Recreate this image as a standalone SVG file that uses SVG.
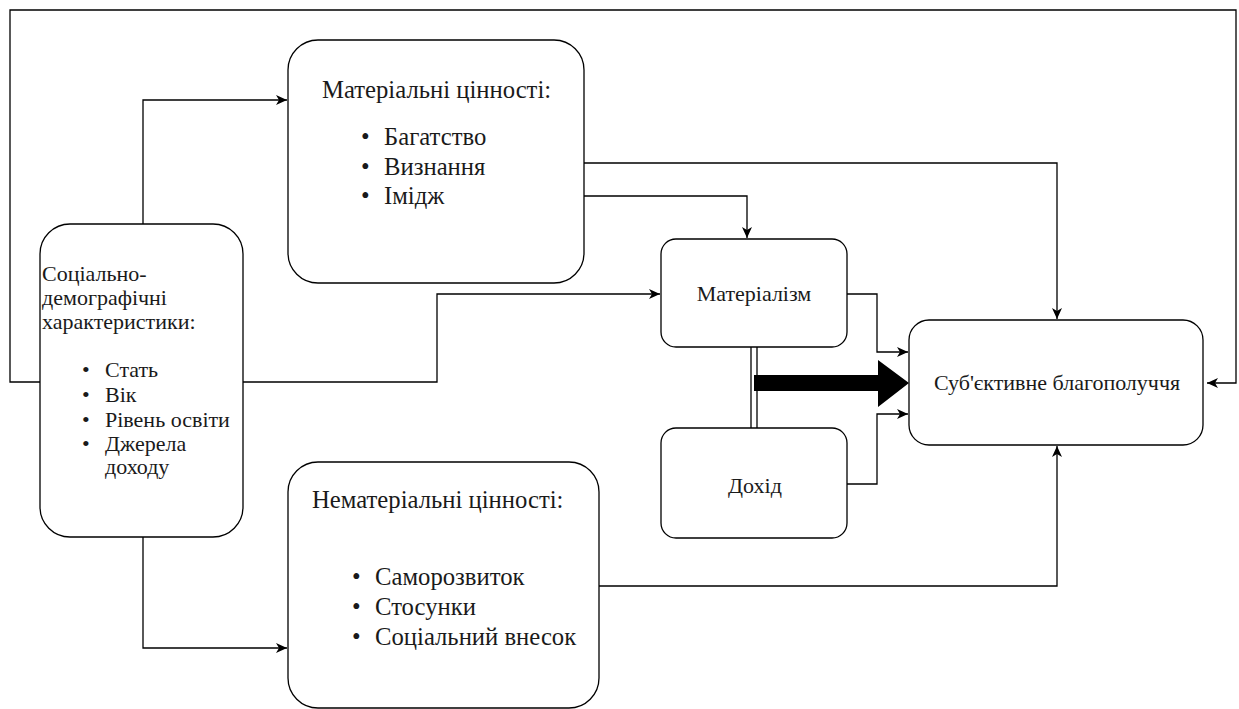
<svg xmlns="http://www.w3.org/2000/svg" width="1239" height="709" viewBox="0 0 1239 709">
<style>
.box{fill:#fff;stroke:#000;stroke-width:1.3}
.ln{fill:none;stroke:#000;stroke-width:1.3}
.t{font-family:"Liberation Serif";font-size:22px;fill:#1a1a1a}
.v{font-family:"Liberation Serif";font-size:24.7px;fill:#1a1a1a}
.c{text-anchor:middle}
</style>
<defs>
<marker id="ar" markerWidth="12" markerHeight="10" refX="11" refY="5" orient="auto" markerUnits="userSpaceOnUse">
<path d="M0,0 L11,5 L0,10 L3,5 z" fill="#000"/>
</marker>
</defs>
<rect width="1239" height="709" fill="#fff"/>
<g id="connectors">
<polyline class="ln" points="40,382 10,382 10,10 1236,10 1236,383 1207,383" marker-end="url(#ar)"/>
<polyline class="ln" points="143,224 143,100 287,100" marker-end="url(#ar)"/>
<polyline class="ln" points="143,537 143,648 287,648" marker-end="url(#ar)"/>
<polyline class="ln" points="243,382 437,382 437,294 660,294" marker-end="url(#ar)"/>
<polyline class="ln" points="584,163 1057,163 1057,319" marker-end="url(#ar)"/>
<polyline class="ln" points="584,196 747,196 747,238" marker-end="url(#ar)"/>
<polyline class="ln" points="847,294 877,294 877,352 908,352" marker-end="url(#ar)"/>
<polyline class="ln" points="847,484 877,484 877,414 908,414" marker-end="url(#ar)"/>
<polyline class="ln" points="599,586 1057,586 1057,446" marker-end="url(#ar)"/>
<line class="ln" x1="751" y1="347" x2="751" y2="428"/>
<line class="ln" x1="757" y1="347" x2="757" y2="428"/>
<polygon points="754,375 878,375 878,360 909,383 878,407 878,391 754,391" fill="#000"/>
</g>
<g id="socio">
<rect class="box" x="40" y="224" width="203" height="313" rx="30"/>
<text class="t" x="42" y="281">Соціально-</text>
<text class="t" x="42" y="305">демографічні</text>
<text class="t" x="42" y="329">характеристики:</text>
<text class="t" x="82" y="377">•</text><text class="t" x="105" y="377">Стать</text>
<text class="t" x="82" y="402">•</text><text class="t" x="105" y="402">Вік</text>
<text class="t" x="82" y="427">•</text><text class="t" x="105" y="427">Рівень освіти</text>
<text class="t" x="82" y="451">•</text><text class="t" x="105" y="451">Джерела</text>
<text class="t" x="105" y="474">доходу</text>
</g>
<g id="material">
<rect class="box" x="288" y="40" width="296" height="243" rx="30"/>
<text class="v" x="322" y="98">Матеріальні цінності:</text>
<text class="v" x="361" y="145">•</text><text class="v" x="384" y="145">Багатство</text>
<text class="v" x="361" y="175">•</text><text class="v" x="384" y="175">Визнання</text>
<text class="v" x="361" y="204">•</text><text class="v" x="384" y="204">Імідж</text>
</g>
<g id="nonmaterial">
<rect class="box" x="288" y="462" width="311" height="246" rx="30"/>
<text class="v" x="312" y="508">Нематеріальні цінності:</text>
<text class="v" x="352" y="585">•</text><text class="v" x="375" y="585">Саморозвиток</text>
<text class="v" x="352" y="615">•</text><text class="v" x="375" y="615">Стосунки</text>
<text class="v" x="352" y="645">•</text><text class="v" x="375" y="645">Соціальний внесок</text>
</g>
<g id="materialism">
<rect class="box" x="661" y="239" width="186" height="108" rx="15"/>
<text class="t c" x="754" y="301">Матеріалізм</text>
</g>
<g id="income">
<rect class="box" x="661" y="428" width="186" height="110" rx="15"/>
<text class="t c" x="755" y="493">Дохід</text>
</g>
<g id="wellbeing">
<rect class="box" x="909" y="320" width="294" height="125" rx="20"/>
<text class="t c" x="1057" y="390">Суб'єктивне благополуччя</text>
</g>
</svg>
